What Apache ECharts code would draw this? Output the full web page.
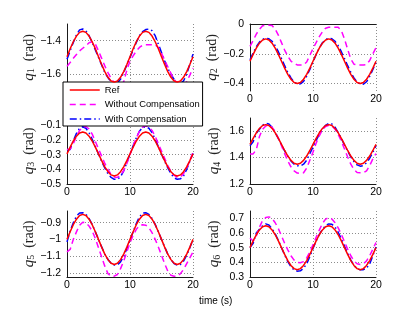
<!DOCTYPE html>
<html><head><meta charset="utf-8">
<script src="https://cdn.jsdelivr.net/npm/echarts@6/dist/echarts.min.js"></script>
<style>html,body{margin:0;padding:0;background:#fff}#c{width:415px;height:313px}</style>
</head><body><div id="c"></div>
<script>
const times = [0,0.5,1,1.5,2,2.5,3,3.5,4,4.5,5,5.5,6,6.5,7,7.5,8,8.5,9,9.5,10,10.5,11,11.5,12,12.5,13,13.5,14,14.5,15,15.5,16,16.5,17,17.5,18,18.5,19,19.5,20];
const xTicks = [0,10,20];
const seriesNames = ['Ref','Without Compensation','With Compensation'];

const ref1 = [-1.495,-1.448,-1.406,-1.372,-1.350,-1.343,-1.350,-1.372,-1.406,-1.448,-1.495,-1.542,-1.584,-1.618,-1.640,-1.647,-1.640,-1.618,-1.584,-1.542,-1.495,-1.448,-1.406,-1.372,-1.350,-1.343,-1.350,-1.372,-1.406,-1.448,-1.495,-1.542,-1.584,-1.618,-1.640,-1.647,-1.640,-1.618,-1.584,-1.542,-1.495];
const without1 = [-1.553,-1.530,-1.505,-1.482,-1.460,-1.445,-1.430,-1.412,-1.406,-1.420,-1.460,-1.505,-1.550,-1.590,-1.625,-1.650,-1.665,-1.665,-1.645,-1.575,-1.520,-1.490,-1.462,-1.440,-1.426,-1.424,-1.424,-1.424,-1.424,-1.440,-1.475,-1.515,-1.555,-1.595,-1.630,-1.655,-1.665,-1.665,-1.645,-1.605,-1.563];
const with1 = [-1.510,-1.460,-1.410,-1.365,-1.335,-1.330,-1.340,-1.370,-1.410,-1.455,-1.500,-1.545,-1.590,-1.620,-1.645,-1.655,-1.650,-1.630,-1.590,-1.545,-1.500,-1.455,-1.410,-1.370,-1.345,-1.333,-1.330,-1.340,-1.370,-1.420,-1.470,-1.520,-1.565,-1.600,-1.630,-1.650,-1.655,-1.640,-1.600,-1.540,-1.480];

const ref2 = [-0.250,-0.204,-0.162,-0.129,-0.107,-0.100,-0.107,-0.129,-0.162,-0.204,-0.250,-0.296,-0.338,-0.371,-0.393,-0.400,-0.393,-0.371,-0.338,-0.296,-0.250,-0.204,-0.162,-0.129,-0.107,-0.100,-0.107,-0.129,-0.162,-0.204,-0.250,-0.296,-0.338,-0.371,-0.393,-0.400,-0.393,-0.371,-0.338,-0.296,-0.250];
const without2 = [-0.150,-0.110,-0.068,-0.035,-0.012,-0.009,-0.009,-0.010,-0.035,-0.075,-0.125,-0.175,-0.215,-0.250,-0.265,-0.275,-0.275,-0.275,-0.255,-0.210,-0.165,-0.125,-0.085,-0.052,-0.028,-0.022,-0.022,-0.022,-0.022,-0.045,-0.100,-0.170,-0.235,-0.270,-0.275,-0.275,-0.275,-0.272,-0.245,-0.200,-0.160];
const with2 = [-0.240,-0.195,-0.152,-0.122,-0.102,-0.096,-0.099,-0.116,-0.146,-0.186,-0.232,-0.280,-0.325,-0.362,-0.390,-0.403,-0.402,-0.385,-0.350,-0.305,-0.255,-0.205,-0.160,-0.126,-0.104,-0.096,-0.099,-0.116,-0.146,-0.186,-0.232,-0.280,-0.325,-0.362,-0.390,-0.403,-0.404,-0.388,-0.352,-0.306,-0.258];

const ref3 = [-0.295,-0.249,-0.207,-0.174,-0.152,-0.145,-0.152,-0.174,-0.207,-0.249,-0.295,-0.341,-0.383,-0.416,-0.438,-0.445,-0.438,-0.416,-0.383,-0.341,-0.295,-0.249,-0.207,-0.174,-0.152,-0.145,-0.152,-0.174,-0.207,-0.249,-0.295,-0.341,-0.383,-0.416,-0.438,-0.445,-0.438,-0.416,-0.383,-0.341,-0.295];
const without3 = [-0.265,-0.262,-0.225,-0.175,-0.135,-0.112,-0.108,-0.125,-0.160,-0.210,-0.260,-0.310,-0.360,-0.400,-0.435,-0.452,-0.455,-0.440,-0.410,-0.360,-0.300,-0.240,-0.185,-0.140,-0.112,-0.105,-0.112,-0.135,-0.175,-0.225,-0.275,-0.325,-0.375,-0.415,-0.440,-0.455,-0.452,-0.430,-0.390,-0.340,-0.285];
const with3 = [-0.270,-0.265,-0.205,-0.155,-0.120,-0.110,-0.120,-0.150,-0.195,-0.245,-0.295,-0.345,-0.390,-0.430,-0.455,-0.468,-0.468,-0.450,-0.410,-0.355,-0.295,-0.240,-0.185,-0.140,-0.115,-0.110,-0.120,-0.150,-0.195,-0.245,-0.295,-0.345,-0.390,-0.430,-0.458,-0.468,-0.465,-0.445,-0.400,-0.345,-0.290];

const ref4 = [1.500,1.546,1.588,1.621,1.643,1.650,1.643,1.621,1.588,1.546,1.500,1.454,1.412,1.379,1.357,1.350,1.357,1.379,1.412,1.454,1.500,1.546,1.588,1.621,1.643,1.650,1.643,1.621,1.588,1.546,1.500,1.454,1.412,1.379,1.357,1.350,1.357,1.379,1.412,1.454,1.500];
const without4 = [1.428,1.428,1.460,1.560,1.615,1.640,1.645,1.630,1.595,1.545,1.490,1.430,1.375,1.330,1.300,1.283,1.279,1.285,1.320,1.380,1.440,1.510,1.565,1.610,1.635,1.645,1.640,1.615,1.575,1.525,1.465,1.405,1.350,1.310,1.287,1.285,1.285,1.300,1.340,1.390,1.430];
const with4 = [1.490,1.520,1.585,1.615,1.645,1.660,1.655,1.630,1.590,1.545,1.495,1.450,1.410,1.375,1.350,1.338,1.337,1.350,1.380,1.430,1.480,1.530,1.575,1.615,1.645,1.660,1.655,1.630,1.590,1.545,1.495,1.450,1.405,1.370,1.345,1.335,1.340,1.360,1.395,1.440,1.490];

const ref5 = [-1.000,-0.954,-0.912,-0.879,-0.857,-0.850,-0.857,-0.879,-0.912,-0.954,-1.000,-1.046,-1.088,-1.121,-1.143,-1.150,-1.143,-1.121,-1.088,-1.046,-1.000,-0.954,-0.912,-0.879,-0.857,-0.850,-0.857,-0.879,-0.912,-0.954,-1.000,-1.046,-1.088,-1.121,-1.143,-1.150,-1.143,-1.121,-1.088,-1.046,-1.000];
const without5 = [-1.075,-1.060,-1.000,-0.955,-0.915,-0.897,-0.900,-0.920,-0.950,-0.995,-1.050,-1.105,-1.160,-1.205,-1.220,-1.220,-1.210,-1.175,-1.130,-1.075,-1.020,-0.975,-0.940,-0.918,-0.912,-0.915,-0.930,-0.960,-1.000,-1.045,-1.095,-1.145,-1.190,-1.215,-1.220,-1.220,-1.205,-1.180,-1.145,-1.110,-1.075];
const with5 = [-1.015,-0.950,-0.900,-0.860,-0.842,-0.840,-0.850,-0.875,-0.910,-0.955,-1.000,-1.045,-1.088,-1.120,-1.143,-1.153,-1.152,-1.135,-1.100,-1.055,-1.005,-0.955,-0.905,-0.865,-0.843,-0.840,-0.850,-0.875,-0.910,-0.955,-1.000,-1.045,-1.088,-1.120,-1.145,-1.155,-1.150,-1.130,-1.095,-1.050,-1.000];

const ref6 = [0.500,0.546,0.588,0.621,0.643,0.650,0.643,0.621,0.588,0.546,0.500,0.454,0.412,0.379,0.357,0.350,0.357,0.379,0.412,0.454,0.500,0.546,0.588,0.621,0.643,0.650,0.643,0.621,0.588,0.546,0.500,0.454,0.412,0.379,0.357,0.350,0.357,0.379,0.412,0.454,0.500];
const without6 = [0.565,0.545,0.580,0.640,0.685,0.705,0.710,0.700,0.670,0.630,0.580,0.530,0.485,0.445,0.415,0.400,0.397,0.405,0.430,0.470,0.520,0.570,0.620,0.665,0.695,0.705,0.695,0.670,0.635,0.590,0.540,0.490,0.445,0.410,0.390,0.385,0.390,0.410,0.445,0.490,0.535];
const with6 = [0.500,0.530,0.600,0.625,0.650,0.662,0.655,0.630,0.595,0.550,0.500,0.450,0.405,0.370,0.348,0.340,0.342,0.360,0.390,0.440,0.495,0.545,0.590,0.625,0.650,0.662,0.660,0.640,0.605,0.560,0.510,0.460,0.415,0.380,0.355,0.350,0.350,0.360,0.390,0.445,0.505];

const yTicks1 = [-1.6,-1.4];
const yTicks2 = [-0.4,-0.2,0];
const yTicks3 = [-0.5,-0.4,-0.3,-0.2,-0.1];
const yTicks4 = [1.2,1.4,1.6];
const yTicks5 = [-1.2,-1.1,-1,-0.9];
const yTicks6 = [0.3,0.4,0.5,0.6,0.7];
const yRange1 = [-1.7,-1.3];
const yRange2 = [-0.45,0];
const yRange3 = [-0.5,-0.05];
const yRange4 = [1.2,1.7];
const yRange5 = [-1.225,-0.83];
const yRange6 = [0.3,0.75];

const panels = [
  {sub:'1', ref:ref1, wo:without1, w:with1, range:yRange1, ticks:yTicks1},
  {sub:'2', ref:ref2, wo:without2, w:with2, range:yRange2, ticks:yTicks2},
  {sub:'3', ref:ref3, wo:without3, w:with3, range:yRange3, ticks:yTicks3},
  {sub:'4', ref:ref4, wo:without4, w:with4, range:yRange4, ticks:yTicks4},
  {sub:'5', ref:ref5, wo:without5, w:with5, range:yRange5, ticks:yTicks5},
  {sub:'6', ref:ref6, wo:without6, w:with6, range:yRange6, ticks:yTicks6}
];

const lefts = [67, 250];
const tops = [24, 118, 211];
const heights = [67, 66, 66];
const fmt = v => String(+(+v).toFixed(3)).replace('-', '\u2212');
const zip = arr => times.map((t, i) => [t, arr[i]]);
const gridLine = {show:true, lineStyle:{color:'#8c8c8c', type:[1,2], width:1}};
const axisLine = {show:true, lineStyle:{color:'#1a1a1a', width:1}};

const grids = [], xAxes = [], yAxes = [], series = [];
panels.forEach((p, i) => {
  const col = i % 2, row = Math.floor(i / 2);
  grids.push({left:lefts[col], top:tops[row], width:126, height:heights[row]});
  xAxes.push({gridIndex:i, type:'value', min:0, max:20, interval:10,
    axisLine, axisTick:{show:false},
    axisLabel:{fontSize:10.5, color:'#000', fontFamily:'Liberation Sans', margin:3, formatter:fmt},
    splitLine:gridLine});
  yAxes.push({gridIndex:i, type:'value', min:p.range[0], max:p.range[1],
    axisLine, axisTick:{show:false, customValues:p.ticks},
    axisLabel:{customValues:p.ticks, fontSize:10.5, color:'#000', fontFamily:'Liberation Sans', margin:6, formatter:fmt},
    splitLine:gridLine,
    name:'{q|q}{s|' + p.sub + '}{r|  (rad)}', nameLocation:'middle', nameGap:28, nameRotate:90,
    nameTextStyle:{color:'#222', rich:{
      q:{fontFamily:'Liberation Serif', fontStyle:'italic', fontSize:15, color:'#222'},
      s:{fontFamily:'Liberation Serif', fontSize:10, verticalAlign:'bottom', color:'#222'},
      r:{fontFamily:'Liberation Serif', fontSize:14, color:'#222'}}}});
  series.push({name:seriesNames[2], type:'line', xAxisIndex:i, yAxisIndex:i, data:zip(p.w), symbol:'none',
    color:'#0000ff', lineStyle:{color:'#0000ff', width:1.5, type:[7,3,1.5,3]}, z:2});
  series.push({name:seriesNames[1], type:'line', xAxisIndex:i, yAxisIndex:i, data:zip(p.wo), symbol:'none',
    color:'#ff00ff', lineStyle:{color:'#ff00ff', width:1.5, type:[6,4]}, z:3});
  series.push({name:seriesNames[0], type:'line', xAxisIndex:i, yAxisIndex:i, data:zip(p.ref), symbol:'none',
    color:'#ff0000', lineStyle:{color:'#ff0000', width:1.5}, z:4});
});

const chart = echarts.init(document.getElementById('c'), null, {renderer:'canvas'});
chart.setOption({
  animation:false,
  backgroundColor:'#fff',
  grid:grids, xAxis:xAxes, yAxis:yAxes, series,
  legend:{orient:'vertical', left:63, top:82, data:seriesNames, selectedMode:false,
    itemWidth:30, itemHeight:10, itemGap:4.5, padding:[3,3,2,6],
    itemStyle:{opacity:0}, lineStyle:{width:1.5},
    backgroundColor:'#fff', borderColor:'#000', borderWidth:1,
    textStyle:{fontSize:9.4, fontFamily:'Liberation Sans', color:'#000', lineHeight:10}},
  graphic:[{type:'text', left:199, top:296, style:{text:'time (s)', font:'10px "Liberation Sans"', fill:'#000'}}]
});
</script></body></html>
